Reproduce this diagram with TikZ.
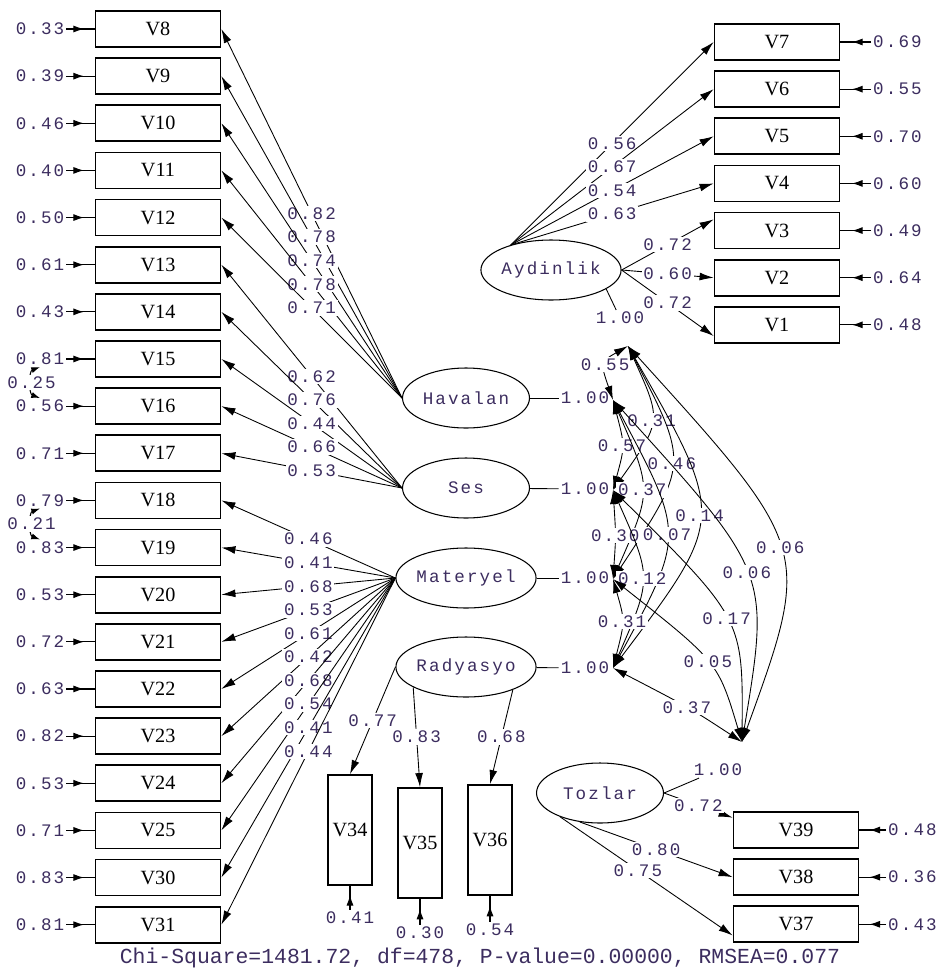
\documentclass[tikz,border=0pt]{standalone}
\usepackage{fontspec}
\usepackage{xcolor}
\usetikzlibrary{positioning, shapes.geometric, arrows.meta, decorations.markings}

\newfontfamily\lisfont[LetterSpace=12]{Liberation Mono}
\newfontfamily\chifont{Liberation Mono}
\newfontfamily\boxfont{Liberation Serif}
\definecolor{numc}{RGB}{60,45,95}

\tikzset{
  obs/.style={draw, line width=1pt, minimum width=2.5cm, minimum height=0.72cm, inner sep=0pt,
    font=\boxfont\fontsize{11.5}{12}\selectfont},
  obsv/.style={obs, minimum width=0.87cm, minimum height=2.2cm},
  lat/.style={draw, ellipse, line width=0.6pt, minimum width=2.54cm, minimum height=1.2cm, inner sep=0pt,
    font=\lisfont\fontsize{10}{12}\selectfont, text=numc},
  lab/.style={font=\lisfont\fontsize{10}{12}\selectfont, text=numc, fill=white, inner sep=1pt},
  err/.style={draw, line width=0.6pt, postaction={decorate},
    decoration={markings, mark=at position 0.62 with {\arrow{Latex[length=6pt,width=4pt]}}}},
  load/.style={->, line width=0.5pt},
  cov/.style={<->, line width=0.5pt},
  ecov/.style={{Latex[length=5pt,width=3.5pt]}-{Latex[length=5pt,width=3.5pt]}, line width=0.6pt}
}

\begin{document}
\begin{tikzpicture}[x=0.02cm, y=-0.02cm, node distance=0.943cm, on grid,
    >={Latex[length=8pt,width=4.5pt]}]
    \useasboundingbox (0,0) rectangle (941,974);

    % left column
    \node[obs] (v8) at (158,29) {V8};
    \node[obs] (v9) [below=of v8] {V9};
    \node[obs] (v10) [below=of v9] {V10};
    \node[obs] (v11) [below=of v10] {V11};
    \node[obs] (v12) [below=of v11] {V12};
    \node[obs] (v13) [below=of v12] {V13};
    \node[obs] (v14) [below=of v13] {V14};
    \node[obs] (v15) [below=of v14] {V15};
    \node[obs] (v16) [below=of v15] {V16};
    \node[obs] (v17) [below=of v16] {V17};
    \node[obs] (v18) [below=of v17] {V18};
    \node[obs] (v19) [below=of v18] {V19};
    \node[obs] (v20) [below=of v19] {V20};
    \node[obs] (v21) [below=of v20] {V21};
    \node[obs] (v22) [below=of v21] {V22};
    \node[obs] (v23) [below=of v22] {V23};
    \node[obs] (v24) [below=of v23] {V24};
    \node[obs] (v25) [below=of v24] {V25};
    \node[obs] (v30) [below=of v25] {V30};
    \node[obs] (v31) [below=of v30] {V31};

    % right column
    \node[obs] (v7) at (777,42) {V7};
    \node[obs] (v6) [below=of v7] {V6};
    \node[obs] (v5) [below=of v6] {V5};
    \node[obs] (v4) [below=of v5] {V4};
    \node[obs] (v3) [below=of v4] {V3};
    \node[obs] (v2) [below=of v3] {V2};
    \node[obs] (v1) [below=of v2] {V1};

    \node[obs] (v39) at (796,830) {V39};
    \node[obs] (v38) [below=of v39] {V38};
    \node[obs] (v37) [below=of v38] {V37};

    \node[obsv] (v34) at (350,830) {V34};
    \node[obsv] (v35) at (420,843) {V35};
    \node[obsv] (v36) at (490,840) {V36};

    % latent variables
    \node[lat] (ayd) at (551,270) {Aydinlik};
    \node[lat] (hav) at (466,398) {Havalan};
    \node[lat] (ses) at (466,488) {Ses};
    \node[lat] (mat) at (466,578) {Materyel};
    \node[lat] (rad) at (466,667) {Radyasyo};
    \node[lat] (toz) at (600,793) {Tozlar};

    % error terms
    \node[lab] (e8) [left=2.36cm of v8] {0.33};
    \node[lab] (e9) [left=2.36cm of v9] {0.39};
    \node[lab] (e10) [left=2.36cm of v10] {0.46};
    \node[lab] (e11) [left=2.36cm of v11] {0.40};
    \node[lab] (e12) [left=2.36cm of v12] {0.50};
    \node[lab] (e13) [left=2.36cm of v13] {0.61};
    \node[lab] (e14) [left=2.36cm of v14] {0.43};
    \node[lab] (e15) [left=2.36cm of v15] {0.81};
    \node[lab] (e16) [left=2.36cm of v16] {0.56};
    \node[lab] (e17) [left=2.36cm of v17] {0.71};
    \node[lab] (e18) [left=2.36cm of v18] {0.79};
    \node[lab] (e19) [left=2.36cm of v19] {0.83};
    \node[lab] (e20) [left=2.36cm of v20] {0.53};
    \node[lab] (e21) [left=2.36cm of v21] {0.72};
    \node[lab] (e22) [left=2.36cm of v22] {0.63};
    \node[lab] (e23) [left=2.36cm of v23] {0.82};
    \node[lab] (e24) [left=2.36cm of v24] {0.53};
    \node[lab] (e25) [left=2.36cm of v25] {0.71};
    \node[lab] (e30) [left=2.36cm of v30] {0.83};
    \node[lab] (e31) [left=2.36cm of v31] {0.81};

    \node[lab] (e7) [right=2.41cm of v7] {0.69};
    \node[lab] (e6) [right=2.41cm of v6] {0.55};
    \node[lab] (e5) [right=2.41cm of v5] {0.70};
    \node[lab] (e4) [right=2.41cm of v4] {0.60};
    \node[lab] (e3) [right=2.41cm of v3] {0.49};
    \node[lab] (e2) [right=2.41cm of v2] {0.64};
    \node[lab] (e1) [right=2.41cm of v1] {0.48};
    \node[lab] (e39) [right=2.33cm of v39] {0.48};
    \node[lab] (e38) [right=2.33cm of v38] {0.36};
    \node[lab] (e37) [right=2.33cm of v37] {0.43};
    \node[lab] (e34) [below=1.76cm of v34] {0.41};
    \node[lab] (e35) [below=1.8cm of v35] {0.30};
    \node[lab] (e36) [below=1.8cm of v36] {0.54};

    \path (e8) edge[err] (v8) (e9) edge[err] (v9) (e10) edge[err] (v10)
          (e11) edge[err] (v11) (e12) edge[err] (v12) (e13) edge[err] (v13)
          (e14) edge[err] (v14) (e15) edge[err] (v15) (e16) edge[err] (v16)
          (e17) edge[err] (v17) (e18) edge[err] (v18) (e19) edge[err] (v19)
          (e20) edge[err] (v20) (e21) edge[err] (v21) (e22) edge[err] (v22)
          (e23) edge[err] (v23) (e24) edge[err] (v24) (e25) edge[err] (v25)
          (e30) edge[err] (v30) (e31) edge[err] (v31)
          (e7) edge[err] (v7) (e6) edge[err] (v6) (e5) edge[err] (v5)
          (e4) edge[err] (v4) (e3) edge[err] (v3) (e2) edge[err] (v2)
          (e1) edge[err] (v1) (e39) edge[err] (v39) (e38) edge[err] (v38)
          (e37) edge[err] (v37) (e34) edge[err] (v34) (e35) edge[err] (v35)
          (e36) edge[err] (v36);

    \draw[ecov] (e15.south) to[bend right=70] node[lab] {0.25} (e16.north);
    \draw[ecov] (e18.south) to[bend right=70] node[lab] {0.21} (e19.north);

    % loadings
    \path[load]
    (hav.west) edge node[lab] {0.82} (v8.east)
               edge node[lab] {0.78} (v9.east)
               edge node[lab] {0.74} (v10.east)
               edge node[lab] {0.78} (v11.east)
               edge node[lab] {0.71} (v12.east)
    (ses.west) edge node[lab] {0.62} (v13.east)
               edge node[lab] {0.76} (v14.east)
               edge node[lab] {0.44} (v15.east)
               edge node[lab] {0.66} (v16.east)
               edge node[lab] {0.53} (v17.east)
    (mat.west) edge node[lab] {0.46} (v18.east)
               edge node[lab] {0.41} (v19.east)
               edge node[lab] {0.68} (v20.east)
               edge node[lab] {0.53} (v21.east)
               edge node[lab] {0.61} (v22.east)
               edge node[lab] {0.42} (v23.east)
               edge node[lab] {0.68} (v24.east)
               edge node[lab] {0.54} (v25.east)
               edge node[lab] {0.41} (v30.east)
               edge node[lab] {0.44} (v31.east)
    (ayd.148)  edge node[lab] {0.56} (v7.west)
               edge node[lab] {0.67} (v6.west)
               edge node[lab] {0.54} (v5.west)
               edge node[lab] {0.63} (v4.west)
    (ayd.east) edge node[lab] {0.72} (v3.170)
               edge node[lab] {0.60} (v2.west)
               edge node[lab] {0.72} (v1.190)
    (rad.west) edge node[lab] {0.77} (v34.north)
    (rad.201)  edge node[lab] {0.83} (v35.north)
    (rad.334)  edge node[lab] {0.68} (v36.north)
    (toz.east) edge node[lab] {0.72} (v39.169)
    (toz.235)  edge node[lab] {0.80} (v38.west)
    (toz.211)  edge node[lab, pos=0.45] {0.75} (v37.190);

    % factor variances
    \node[lab] (fa) at (620,318) {1.00};
    \node[lab] (fh) at (585,398) {1.00};
    \node[lab] (fs) at (585,489) {1.00};
    \node[lab] (fm) at (585,578) {1.00};
    \node[lab] (fr) at (585,668) {1.00};
    \node[lab] (ft) at (718,770) {1.00};
    \draw[line width=0.5pt] (ayd.-19) -- (fa);
    \draw[line width=0.5pt] (hav) -- (fh);
    \draw[line width=0.5pt] (ses) -- (fs);
    \draw[line width=0.5pt] (mat) -- (fm);
    \draw[line width=0.5pt] (rad) -- (fr);
    \draw[line width=0.5pt] (toz.east) -- (ft);

    \coordinate (pA) at (628,346);
    \coordinate (pH) at (613,400);
    \coordinate (pS) at (613,490);
    \coordinate (pM) at (613,579);
    \coordinate (pR) at (613,668);
    \coordinate (pT) at (742,742);

    % factor correlations
    \draw[cov] (pA) .. controls (600,362) .. (pH) node[lab, pos=0.5] {0.55};
    \draw[cov] (pA) .. controls (662,421) .. (pS) node[lab, pos=0.5] {0.31};
    \draw[cov] (pA) .. controls (689,464) .. (pM) node[lab, pos=0.5] {0.46};
    \draw[cov] (pA) .. controls (726,518) .. (pR) node[lab, pos=0.5] {0.14};
    \draw[cov] (pA) .. controls (812,549) .. (pT) node[lab, pos=0.5] {0.06};
    \draw[cov] (pH) .. controls (625,446) .. (pS) node[lab, pos=0.5] {0.57};
    \draw[cov] (pH) .. controls (652,490) .. (pM) node[lab, pos=0.5] {0.37};
    \draw[cov] (pH) .. controls (685,535) .. (pR) node[lab, pos=0.5] {0.07};
    \draw[cov] (pH) .. controls (770,573) .. (pT) node[lab, pos=0.5] {0.06};
    \draw[cov] (pS) .. controls (616,536) .. (pM) node[lab, pos=0.5] {0.30};
    \draw[cov] (pS) .. controls (652,578) .. (pR) node[lab, pos=0.5] {0.12};
    \draw[cov] (pS) .. controls (743,619) .. (pT) node[lab, pos=0.5] {0.17};
    \draw[cov] (pM) .. controls (625,621) .. (pR) node[lab, pos=0.5] {0.31};
    \draw[cov] (pM) .. controls (718,662) .. (pT) node[lab, pos=0.5] {0.05};
    \draw[cov] (pR) .. controls (690,708) .. (pT) node[lab, pos=0.5] {0.37};

    \node[font=\chifont\fontsize{12.2}{14}\selectfont, text=numc] (chi) at (480,958)
      {Chi-Square=1481.72, df=478, P-value=0.00000, RMSEA=0.077};
\end{tikzpicture}
\end{document}
